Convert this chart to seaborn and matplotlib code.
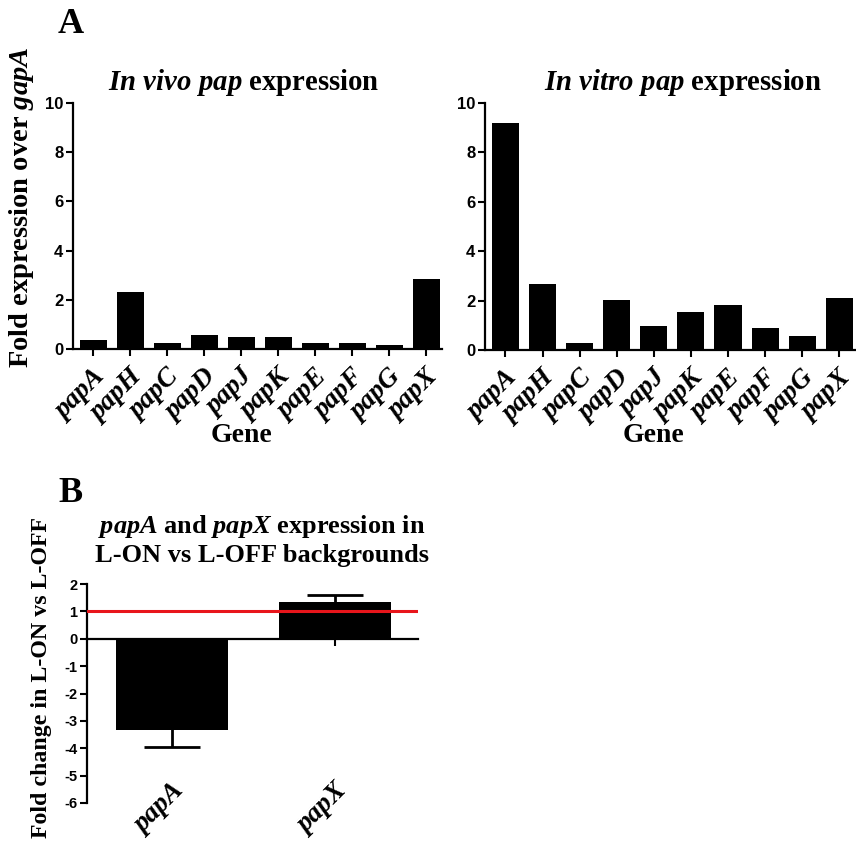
import matplotlib
matplotlib.use("Agg")
import matplotlib.pyplot as plt
import seaborn as sns
import numpy as np
import pandas as pd

# ---------------- data ----------------
genes = ["papA", "papH", "papC", "papD", "papJ", "papK", "papE", "papF", "papG", "papX"]
in_vivo = [0.38, 2.33, 0.23, 0.56, 0.48, 0.48, 0.23, 0.23, 0.18, 2.83]
in_vitro = [9.2, 2.67, 0.27, 2.02, 0.97, 1.52, 1.82, 0.88, 0.58, 2.12]

b_genes = ["papA", "papX"]
b_fold = [-3.35, 1.34]
b_err = [0.6, 0.25]
ref_line = 1.0

sns.set_theme(style="white")
plt.rcParams["font.family"] = ["Liberation Serif", "DejaVu Serif"]
plt.rcParams["text.color"] = "black"
plt.rcParams["axes.labelcolor"] = "black"
plt.rcParams["xtick.color"] = "black"
plt.rcParams["ytick.color"] = "black"
plt.rcParams["axes.unicode_minus"] = False
plt.rcParams["mathtext.fontset"] = "custom"
plt.rcParams["mathtext.rm"] = "Liberation Serif:bold"
plt.rcParams["mathtext.bf"] = "Liberation Serif:bold"
plt.rcParams["mathtext.it"] = "Liberation Serif:italic:bold"

SANS = "Liberation Sans"
SERIF = "Liberation Serif"

fig = plt.figure(figsize=(8.56, 8.48), dpi=100)
W, H = 856, 848

def axes_px(l, r, t, b):
    return fig.add_axes([l / W, 1 - b / H, (r - l) / W, (b - t) / H])

def style_ax(ax, ytick_size):
    sns.despine(ax=ax)
    for s in ["left", "bottom"]:
        ax.spines[s].set_linewidth(1.6)
        ax.spines[s].set_color("black")
    ax.tick_params(axis="both", which="both", direction="out", length=5, width=1.5,
                   color="black", labelcolor="black", bottom=True, left=True)
    ax.tick_params(axis="y", pad=2)
    for lab in ax.get_yticklabels():
        lab.set_fontfamily(SANS)
        lab.set_fontweight("bold")
        lab.set_fontsize(ytick_size)
    ax.set_xlabel("")
    ax.set_ylabel("")
    ax.set_facecolor("white")

def rot_xticks(ax, size, pad=2):
    ax.set_xticks(range(len(ax.get_xticklabels())))
    labs = [t.get_text() for t in ax.get_xticklabels()]
    ax.set_xticklabels(labs, rotation=45, ha="right", rotation_mode="anchor",
                       fontfamily=SERIF, fontstyle="italic", fontweight="bold",
                       fontsize=size, color="black")
    ax.tick_params(axis="x", pad=pad)

# ---------------- Panel A left ----------------
df_vivo = pd.DataFrame({"gene": genes, "val": in_vivo})
ax1 = axes_px(73, 442, 103, 349)
sns.barplot(data=df_vivo, x="gene", y="val", color="black", saturation=1,
            width=0.73, ax=ax1, edgecolor="black", linewidth=0)
ax1.set_ylim(0, 10)
ax1.set_xlim(-0.55, 9.43)
ax1.set_yticks([0, 2, 4, 6, 8, 10])
style_ax(ax1, 12)
rot_xticks(ax1, 19.5, pad=6)

# ---------------- Panel A right ----------------
df_vitro = pd.DataFrame({"gene": genes, "val": in_vitro})
ax2 = axes_px(485, 856, 103, 350)
sns.barplot(data=df_vitro, x="gene", y="val", color="black", saturation=1,
            width=0.73, ax=ax2, edgecolor="black", linewidth=0)
ax2.set_ylim(0, 10)
ax2.set_xlim(-0.55, 9.45)
ax2.set_yticks([0, 2, 4, 6, 8, 10])
style_ax(ax2, 12)
rot_xticks(ax2, 19.5, pad=6)

# ---------------- Panel B ----------------
df_b = pd.DataFrame({"gene": b_genes, "val": b_fold, "err": b_err})
ax3 = axes_px(87, 418, 584, 803)
ax3.axhline(ref_line, color="#e8151b", lw=2.2, zorder=5)
sns.barplot(data=df_b, x="gene", y="val", color="black", saturation=1,
            width=0.69, ax=ax3, edgecolor="black", linewidth=0, zorder=2)
ax3.errorbar(x=np.arange(len(b_genes)), y=df_b["val"], yerr=df_b["err"], fmt="none",
             ecolor="black", elinewidth=2, capsize=20, capthick=2, zorder=3)
ax3.set_ylim(-6, 2)
ax3.set_xlim(-0.52, 1.51)
ax3.set_yticks(range(-6, 3))
style_ax(ax3, 10.5)
ax3.spines["bottom"].set_position(("data", 0))
rot_xticks(ax3, 19.5, pad=96)

# ---------------- Text ----------------
fig.text(58 / W, 1 - 33 / H, "A", fontsize=26, fontweight="bold", family=SERIF)
fig.text(58 / W, 1 - 502 / H, "B", fontsize=26, fontweight="bold", family=SERIF)

fig.text(244 / W, 1 - 90 / H, r"$\mathit{In\ vivo\ pap}$ expression", ha="center",
         va="baseline", fontsize=20.7, fontweight="bold", family=SERIF)
fig.text(683 / W, 1 - 90 / H, r"$\mathit{In\ vitro\ pap}$ expression", ha="center",
         va="baseline", fontsize=20.7, fontweight="bold", family=SERIF)

fig.text(22 / W, 1 - 207 / H, r"Fold expression over $\mathit{gapA}$", rotation=90,
         ha="center", va="center", fontsize=20.5, fontweight="bold", family=SERIF)

fig.text(242 / W, 1 - 442 / H, "Gene", ha="center", va="baseline", fontsize=20,
         fontweight="bold", family=SERIF)
fig.text(654 / W, 1 - 442 / H, "Gene", ha="center", va="baseline", fontsize=20,
         fontweight="bold", family=SERIF)

fig.text(262 / W, 1 - 533 / H, r"$\mathit{papA}$ and $\mathit{papX}$ expression in",
         ha="center", va="baseline", fontsize=19, fontweight="bold", family=SERIF)
fig.text(262 / W, 1 - 562 / H, "L-ON vs L-OFF backgrounds",
         ha="center", va="baseline", fontsize=19, fontweight="bold", family=SERIF)

fig.text(42 / W, 1 - 678 / H, "Fold change in L-ON vs L-OFF", rotation=90,
         ha="center", va="center", fontsize=17.2, fontweight="bold", family=SERIF)

fig.savefig("out.png", dpi=100, facecolor="white")
